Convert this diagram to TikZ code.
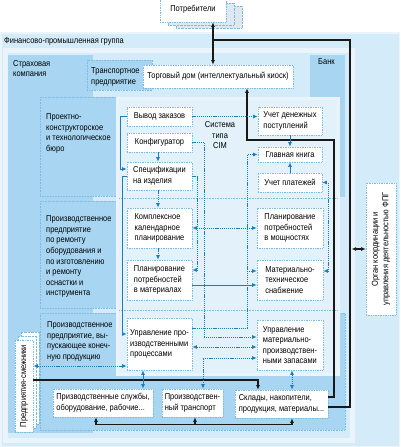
\documentclass[tikz,border=0pt]{standalone}
\usepackage{fontspec}
\usepackage{graphicx}
\setmainfont{Liberation Sans}[FakeStretch=0.87]
\usetikzlibrary{arrows.meta}
\definecolor{lightbg}{RGB}{212,235,249}
\definecolor{midblue}{RGB}{168,214,242}
\definecolor{cimbg}{RGB}{226,241,250}
\definecolor{speck}{RGB}{234,244,250}
\definecolor{shad}{RGB}{222,232,238}
\definecolor{dotb}{RGB}{125,188,226}
\definecolor{ablue}{RGB}{28,125,184}
\definecolor{dark}{RGB}{25,25,25}
\newcommand\mybox[6]{%
  \pgfmathsetmacro\mbW{#4-#2}\pgfmathsetmacro\mbH{#5-#3}%
  \pgfmathsetmacro\mbX{(#2+#4)/2}\pgfmathsetmacro\mbY{(#3+#5)/2}%
  \node[wbox, minimum width=\mbW pt, minimum height=\mbH pt] (#1) at (\mbX,\mbY) {#6};}
\begin{document}
\begin{tikzpicture}[x=1pt,y=-1pt,
  font=\fontsize{8.6}{10.6}\selectfont,
  wbox/.style={draw=dotb, densely dotted, fill=white, line width=0.7pt, inner sep=0pt, align=left},
  panel/.style={fill=midblue, draw=dotb, densely dotted, line width=0.6pt},
  lbl/.style={anchor=north west, inner sep=0pt, align=left},
  blk/.style={draw=dark, line width=1.1pt},
  bs/.style={draw=ablue, line width=0.8pt},
  bd/.style={draw=ablue, line width=0.8pt, dash pattern=on 1.2pt off 0.9pt},
  ar/.style={-{Latex[length=4.5pt,width=4pt]}},
  dar/.style={{Latex[length=4.5pt,width=4pt]}-{Latex[length=4.5pt,width=4pt]}},
]
\useasboundingbox (0,0) rectangle (400,447);
\fill[white] (0,0) rectangle (400,447);
% outer group
\draw[fill=lightbg, draw=speck, line width=1.5pt] (0.75,33) rectangle (399.25,446.25);
\draw[fill=lightbg, draw=speck, line width=5pt] (5.5,50.5) rectangle (352.5,440.5);
\node[lbl] (fpg) at (4,37.5) {Финансово-промышленная группа};
% insurance
\fill[midblue] (8,55) rectangle (93,433);
\node[lbl] (strakh) at (13,60) {Страховая\\компания};
% enterprises
\draw[panel] (40,97) rectangle (118,196);
\draw[panel] (40,201) rectangle (118,308);
\draw[panel] (40,313) rectangle (345,430);
% bank
\fill[midblue] (310,55) rectangle (345,197);
\node[lbl] (bank) at (318,58.5) {Банк};
% CIM
\draw[fill=cimbg, draw=speck, line width=3pt] (117.5,98.5) rectangle (338,374);
\draw[dotb, densely dotted, line width=0.6pt] (119,198.5) -- (338,198.5);
\draw[dotb, densely dotted, line width=0.6pt] (119,310.5) -- (338,310.5);
\node[align=center, inner sep=0pt, anchor=north] (cim) at (220,121.5) {Система\\типа\\CIM};
% transport enterprise
\draw[panel] (87,60) rectangle (152,90);
\node[lbl] (transpE) at (91,67.5) {Транспортное\\предприятие};
% enterprise labels
\node[lbl] (proekt) at (46,113.5) {Проектно-\\конструкторское\\и технологическое\\бюро};
\node[lbl] (remont) at (46,215.5) {Производственное\\предприятие\\по ремонту\\оборудования и\\по изготовлению\\и ремонту\\оснастки и\\инструмента};
\node[lbl] (konech) at (47,321.5) {Производственное\\предприятие, вы-\\пускающее конеч-\\ную продукцию};
% consumers stack
\draw[fill=shad, draw=dotb, densely dotted] (176,6) rectangle (242,28);
\draw[fill=shad, draw=dotb, densely dotted] (168,3) rectangle (234,25);
\mybox{potr}{160}{-3}{226}{22}{Потребители}
% boxes
\mybox{torg}{143}{65}{293}{88}{Торговый дом (интеллектуальный киоск)}
\mybox{vyvod}{127}{107}{192}{126}{Вывод заказов}
\mybox{konf}{127}{133}{192}{152}{Конфигуратор}
\mybox{spec}{127}{162}{192}{190}{Спецификации\\на изделия}
\mybox{kompl}{127}{208}{192}{248}{Комплексное\\календарное\\планирование}
\mybox{matpl}{127}{260}{192}{300}{Планирование\\потребностей\\в материалах}
\mybox{uprpr}{127}{318}{192}{370}{Управление про-\\изводственными\\процессами}
\mybox{uchden}{258}{107}{322}{135}{Учет денежных\\поступлений}
\mybox{glav}{258}{147}{322}{162}{Главная книга}
\mybox{uchpl}{258}{173}{322}{192}{Учет платежей}
\mybox{moshch}{257}{208}{323}{248}{Планирование\\потребностей\\в мощностях}
\mybox{mattech}{257}{260}{323}{300}{Материально-\\техническое\\снабжение}
\mybox{mpz}{257}{320}{323}{370}{Управление\\материально-\\производствен-\\ными запасами}
\mybox{sluzhby}{53}{389}{153}{417}{Призводственные службы,\\оборудование, рабочие...}
\mybox{transp}{162}{389}{223}{417}{Производствен-\\ный транспорт}
\mybox{sklad}{235}{390}{328}{418}{Склады, накопители,\\продукция, материалы...}
% partner enterprises stack
\draw[fill=white, draw=dotb, densely dotted] (21,332) rectangle (39,424);
\draw[fill=white, draw=dotb, densely dotted] (18,336) rectangle (36,428);
\mybox{smezh}{15}{340}{33}{432}{\rotatebox{90}{Предприятия-смежники}}
% coordination body
\mybox{organ}{366}{183}{396}{315}{\rotatebox{90}{\begin{tabular}{@{}c@{}}Орган координации и\\управления деятельностью ФПГ\end{tabular}}}
% black connectors
\coordinate (j1) at (213,40);
\draw[blk,dar] ([xshift=20pt]potr.south) -- ([xshift=20pt]potr.south |- torg.north);
\draw[blk] ([yshift=-3pt]sklad.east) -| (350,40) -- (j1);
\draw[blk,ar] ([yshift=7pt]sklad.east) -| (334,140) -| ([xshift=29pt]torg.south);
\draw[blk,ar] ([yshift=6pt]smezh.east) -| ([xshift=-23.5pt]sklad.north);
\draw[blk,dar] ([xshift=-7pt]sluzhby.south) -- ++(0,7) -| ([xshift=10.5pt]sklad.south);
\draw[blk,ar] ([xshift=2.5pt]transp.south) ++(0,7) -- ([xshift=2.5pt]transp.south);
\draw[blk,dar] (organ.west) -- ++(-14,0);
% blue connectors
\draw[bd,ar] (vyvod.east) -- (vyvod.east -| uchden.west);
\draw[bs,ar] (vyvod.west) -- ++(-6,0) |- ([yshift=7pt]spec.west);
\draw[bs,ar] ([xshift=-1.5pt]konf.south) -- ([xshift=-1.5pt]spec.north);
\draw[bd,ar] (konf.east) -- ++(12,0) |- ([yshift=8pt]mpz.west);
\draw[bd,ar] ([xshift=-1.5pt]spec.south) -- ([xshift=-1.5pt]kompl.north);
\draw[bd,ar] (spec.east) -- ++(5,0) |- ([yshift=10pt]matpl.east);
\draw[bs,ar] (spec.west) -- ++(-4,0) |- ([yshift=10pt]uprpr.west);
\draw[bd,dar] (kompl.east) -- (kompl.east -| moshch.west);
\draw[bd,ar] ([xshift=-1.5pt]kompl.south) -- ([xshift=-1.5pt]matpl.north);
\draw[bs,ar] ([yshift=-5pt]matpl.east) -- ([yshift=-5pt]matpl.east -| mattech.west);
\draw[bd,ar] ([yshift=16pt]uprpr.east) -- ++(55,0) |- (glav.west);
\draw[bd,ar] ([yshift=9pt]mattech.west) ++(-10,0) -- ([yshift=9pt]mattech.west);
\draw[bd,dar] ([yshift=9pt]mattech.east) -- ++(5,0) |- (uchpl.east);
\draw[bs,ar] (uchpl.north) -- (glav.south);
\draw[bs,ar] (uchden.south) -- (glav.north);
\draw[bd,dar] ([yshift=-3pt]uprpr.east) -- ([yshift=-3pt]uprpr.east -| mpz.west);
\draw[bd,dar] ([yshift=-13pt]mpz.west) -| ([xshift=10.5pt]transp.north);
\draw[bs,dar] ([xshift=-16.5pt]uprpr.south) -- ([xshift=-16.5pt]uprpr.south |- sluzhby.north);
\draw[bd,dar] ([xshift=2pt]mpz.south) -- ([xshift=2pt]mpz.south |- sklad.north);
\draw[bd,dar] ([yshift=20pt]smezh.east) -- ([yshift=20pt]smezh.east -| uprpr.west);
\end{tikzpicture}
\end{document}
